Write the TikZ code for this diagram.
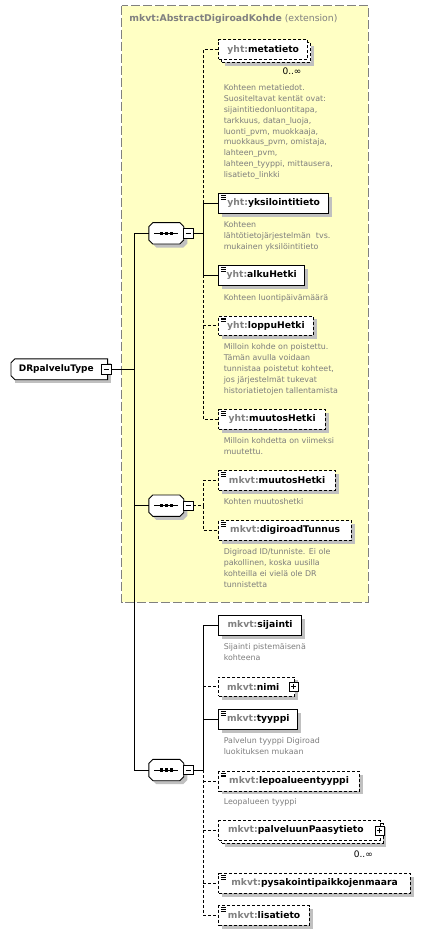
\documentclass[tikz,border=0pt]{standalone}
\usepackage{fontspec}
\setmainfont{DejaVu Sans}
\usetikzlibrary{shadows}
\definecolor{extyellow}{RGB}{255,255,196}
\definecolor{extborder}{RGB}{128,128,128}
\definecolor{nsgray}{RGB}{128,128,128}
\definecolor{docgray}{RGB}{125,125,125}
\definecolor{shadegray}{RGB}{192,192,192}
\newcommand{\yht}{{\color{nsgray}yht:}}
\newcommand{\mkvt}{{\color{nsgray}mkvt:}}
% outline of a sequence compositor, corners cut off
\newcommand{\seqoutline}[1]{([xshift=4pt]#1.north west) -- ([xshift=-4pt]#1.north east)
  -- ([yshift=-4pt]#1.north east) -- ([yshift=4pt]#1.south east) -- ([xshift=-4pt]#1.south east)
  -- ([xshift=4pt]#1.south west) -- ([yshift=4pt]#1.south west) -- ([yshift=-4pt]#1.north west) -- cycle}
\newcommand{\typeoutline}[1]{([xshift=4pt]#1.north west) -- (#1.north east) -- (#1.south east)
  -- ([xshift=4pt]#1.south west) -- ([yshift=4pt]#1.south west) -- ([yshift=-4pt]#1.north west) -- cycle}
\tikzset{
  opt/.style={dash pattern=on 3pt off 2pt},
  shade/.style={drop shadow={shadow xshift=3.5pt,shadow yshift=-3.5pt,fill=shadegray,opacity=1}},
  castshadow/.style={fill=shadegray,transform canvas={shift={(3.5pt,-3.5pt)}}},
  elem/.style={draw,fill=white,anchor=west,line width=0.9pt,minimum height=19.5pt,
    inner xsep=0pt,inner ysep=0pt,font=\bfseries\fontsize{9.2}{11}\selectfont,shade},
  multi/.style={drop shadow={shadow xshift=6.5pt,shadow yshift=-6.5pt,fill=shadegray,opacity=1},
    copy shadow={shadow xshift=3pt,shadow yshift=-3pt,fill=white,draw=black,opt}},
  simpletype/.style={path picture={
      \foreach \d in {2,3.7,5.3}
        \draw[solid,line width=0.6pt] ([xshift=2pt,yshift=-\d pt]path picture bounding box.north west) -- ++(5pt,0);}},
  doc/.style={anchor=north west,inner sep=0pt,align=left,text=docgray,font=\fontsize{7.9}{10.9}\selectfont},
  card/.style={inner sep=0pt,font=\fontsize{9}{11}\selectfont},
  togglebox/.style={draw,solid,fill=white,line width=0.8pt,minimum size=9.5pt,inner sep=0pt},
  minusbox/.style={togglebox,path picture={
      \draw[line width=0.8pt] ([xshift=2pt]path picture bounding box.west) -- ([xshift=-2pt]path picture bounding box.east);}},
  plusbox/.style={togglebox,path picture={
      \draw[line width=0.8pt] ([xshift=2pt]path picture bounding box.west) -- ([xshift=-2pt]path picture bounding box.east);
      \draw[line width=0.8pt] ([yshift=2pt]path picture bounding box.south) -- ([yshift=-2pt]path picture bounding box.north);}},
  seqbox/.style={rectangle,minimum width=34pt,minimum height=20.5pt,inner sep=0pt},
  typebox/.style={rectangle,anchor=west,fill=white,minimum height=20pt,inner sep=0pt,
    font=\bfseries\fontsize{9}{11}\selectfont,shade}
}
\begin{document}
\begin{tikzpicture}[x=1pt,y=-1pt,line width=0.9pt]
  \useasboundingbox (0,0) rectangle (438,936);

  % extension
  \draw[fill=extyellow,draw=extborder,line width=1pt,dash pattern=on 9pt off 3pt]
    (121.7,5.7) rectangle (368,602.3);
  \node[anchor=west,inner sep=0pt,text=nsgray,font=\fontsize{9.3}{11}\selectfont] (extTitle) at (129,19.3)
    {\textbf{mkvt:AbstractDigiroadKohde} (extension)};

  \node[typebox,minimum width=95.7pt] (drType) at (11,369.3) {DRpalveluType\hspace*{6pt}};
  \draw \typeoutline{drType};
  \node[minusbox] (drMinus) at (106.3,369.3) {};

  \node[seqbox] (seqA) at (166.3,233.3) {};
  \node[seqbox] (seqB) at (166.3,505.7) {};
  \node[seqbox] (seqC) at (166.3,770) {};
  \foreach \s in {seqA,seqB,seqC} {
      \fill[castshadow] \seqoutline{\s};
      \draw[fill=white] \seqoutline{\s};
      \draw ([xshift=-12pt]\s.center) -- ([xshift=12pt]\s.center);
      \foreach \d in {-5,0,5}
        \fill ([xshift=\d pt]\s.center) ++(-1.6,-1.6) rectangle ++(3.2,3.2);
    }
  \node[minusbox] (seqAMinus) at (188.3,233.3) {};
  \node[minusbox] (seqBMinus) at (188.3,505.7) {};
  \node[minusbox] (seqCMinus) at (188.3,770) {};

  % elements of the extension
  \node[elem,opt,multi,minimum width=89pt] (meta) at (218.3,49.5) {\yht metatieto};
  \node[card] (metaCard) at (292,71.7) {0..∞};
  \node[doc] (metaDoc) at (223.3,84) {Kohteen metatiedot.\\Suositeltavat kentät ovat:\\sijaintitiedonluontitapa,\\tarkkuus, datan\_luoja,\\luonti\_pvm, muokkaaja,\\muokkaus\_pvm, omistaja,\\lahteen\_pvm,\\lahteen\_tyyppi, mittausera,\\lisatieto\_linkki};
  \node[elem,simpletype,minimum width=110pt] (yksi) at (218.3,203.3) {\yht yksilointitieto};
  \node[doc] (yksiDoc) at (223.3,221.5) {Kohteen\\lähtötietojärjestelmän~ tvs.\\mukainen yksilöintitieto};
  \node[elem,simpletype,minimum width=86pt] (alku) at (218.3,275.3) {\yht alkuHetki};
  \node[doc] (alkuDoc) at (223.3,294) {Kohteen luontipäivämäärä};
  \node[elem,opt,simpletype,minimum width=94.4pt] (loppu) at (218.3,325.7) {\yht loppuHetki};
  \node[doc] (loppuDoc) at (223.3,343.5) {Milloin kohde on poistettu.\\Tämän avulla voidaan\\tunnistaa poistetut kohteet,\\jos järjestelmät tukevat\\historiatietojen tallentamista};
  \node[elem,opt,simpletype,minimum width=106.7pt] (muutosY) at (218.3,419.3) {\yht muutosHetki};
  \node[doc] (muutosYDoc) at (223.3,437.5) {Milloin kohdetta on viimeksi\\muutettu.};
  \node[elem,opt,simpletype,minimum width=116.7pt] (muutosM) at (218.3,480.3) {\mkvt muutosHetki};
  \node[doc] (muutosMDoc) at (223.3,498) {Kohten muutoshetki};
  \node[elem,opt,simpletype,minimum width=132.7pt] (digi) at (218.3,530.3) {\mkvt digiroadTunnus};
  \node[doc] (digiDoc) at (223.3,548.5) {Digiroad ID/tunniste. Ei ole\\pakollinen, koska uusilla\\kohteilla ei vielä ole DR\\tunnistetta};

  % own elements
  \node[elem,minimum width=82.7pt] (sij) at (218.3,625.3) {\mkvt sijainti};
  \node[doc] (sijDoc) at (223.3,643.5) {Sijainti pistemäisenä\\kohteena};
  \node[elem,opt,minimum width=76pt] (nimi) at (218.3,686.7) {\mkvt nimi\hspace*{7pt}};
  \node[plusbox] (nimiPlus) at (293.7,686.7) {};
  \node[elem,simpletype,minimum width=79pt] (tyyppi) at (218.3,719.3) {\mkvt tyyppi};
  \node[doc] (tyyppiDoc) at (223.3,737.5) {Palvelun tyyppi Digiroad\\luokituksen mukaan};
  \node[elem,opt,simpletype,minimum width=140.7pt] (lepo) at (218.3,781.2) {\mkvt lepoalueentyyppi};
  \node[doc] (lepoDoc) at (223.3,798) {Leopalueen tyyppi};
  \node[elem,opt,multi,minimum width=161.2pt] (palvelu) at (218.3,830.3) {\mkvt palveluunPaasytieto\hspace*{7pt}};
  \node[plusbox] (palveluPlus) at (379.7,830.7) {};
  \node[card] (palveluCard) at (363.3,854) {0..∞};
  \node[elem,opt,simpletype,minimum width=191.7pt] (pysak) at (218.3,883.3) {\mkvt pysakointipaikkojenmaara};
  \node[elem,opt,simpletype,minimum width=90.7pt] (lisa) at (218.3,915.3) {\mkvt lisatieto};

  \coordinate (trunk) at (134.3,369.3);
  \coordinate (busA) at (203.3,233.3);
  \coordinate (busB) at (203.3,505.7);
  \coordinate (busC) at (203.3,770);

  \draw (drMinus.east) -- (trunk);
  \draw (seqA.west) -| (trunk) |- (seqC.west);
  \draw (trunk |- seqB.west) -- (seqB.west);
  \draw (seqAMinus.east) -- (busA);
  \draw (seqCMinus.east) -- (busC);
  \draw (busA) |- (yksi.west);
  \draw (busA) |- (alku.west);
  \draw (busC) |- (sij.west);
  \draw (busC) |- (tyyppi.west);
  \begin{scope}[opt]
      \draw (seqBMinus.east) -- (busB);
      \draw (yksi.west -| busA) |- (meta.west);
      \draw (alku.west -| busA) |- (loppu.west);
      \draw (loppu.west -| busA) |- (muutosY.west);
      \draw (busB) |- (muutosM.west);
      \draw (busB) |- (digi.west);
      \draw (busC) |- (lisa.west);
      \foreach \n in {nimi,lepo,palvelu,pysak}
        \draw (\n.west -| busC) -- (\n.west);
  \end{scope}
\end{tikzpicture}
\end{document}
